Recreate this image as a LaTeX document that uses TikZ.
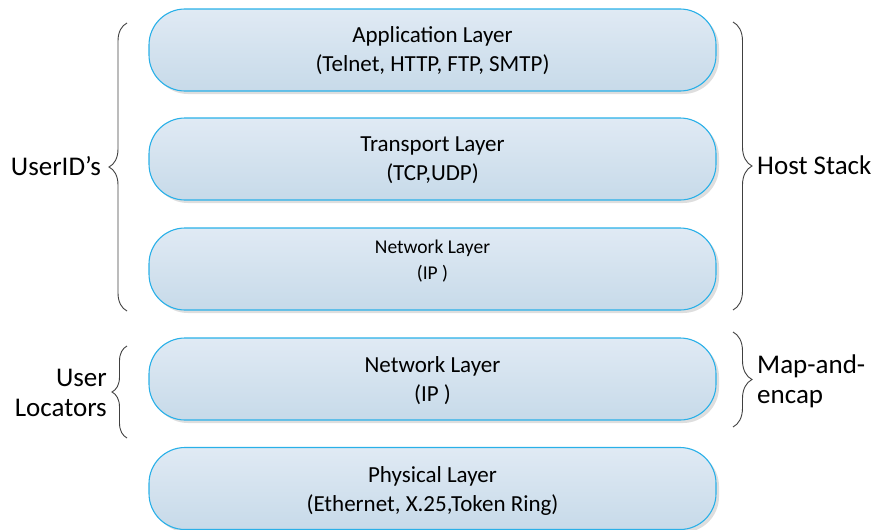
\documentclass[tikz,border=0pt]{standalone}
\usepackage{fontspec}
\setmainfont{Carlito}
\usetikzlibrary{shadows,decorations.pathreplacing}
\definecolor{layeredge}{RGB}{41,176,232}
\definecolor{layertop}{RGB}{224,234,244}
\definecolor{layerbot}{RGB}{199,218,233}
\definecolor{bracegray}{RGB}{64,64,64}

\begin{document}
\begin{tikzpicture}[x=1pt,y=-1pt,
  layer/.style={draw=layeredge, line width=1.1pt, rounded corners=36pt,
    top color=layertop, bottom color=layerbot,
    minimum width=567pt, minimum height=82pt, inner sep=0pt,
    drop shadow={shadow xshift=3pt, shadow yshift=-3pt, fill=black, opacity=0.13}},
  layertext/.style={align=center, inner sep=0pt, font=\fontsize{23}{29}\selectfont},
  smalltext/.style={align=center, inner sep=0pt, font=\fontsize{19.5}{26}\selectfont},
  sidetext/.style={inner sep=0pt, font=\fontsize{27}{30}\selectfont},
  curly/.style={draw=bracegray, line width=0.9pt, decorate,
    decoration={brace, amplitude=#1}}
]
\useasboundingbox (0,0) rectangle (876,530);

% protocol layers
\node[layer] (app)  at (432.5,50)    {};
\node[layer] (trans) at (432.5,159)  {};
\node[layer] (net)  at (432.5,269)   {};
\node[layer] (loc)  at (432.5,379)   {};
\node[layer] (phys) at (432.5,488.5) {};

\node[layertext] (appT)   at ([yshift=-1pt]app.center)    {Application Layer\\(Telnet, HTTP, FTP, SMTP)};
\node[layertext] (transT) at ([yshift=-1.5pt]trans.center) {Transport Layer\\(TCP,UDP)};
\node[smalltext] (netT)   at ([yshift=8pt]net.center)      {Network Layer\\(IP )};
\node[layertext] (locT)   at ([yshift=-1.5pt]loc.center)   {Network Layer\\(IP )};
\node[layertext] (physT)  at ([yshift=-2pt]phys.center)    {Physical Layer\\(Ethernet, X.25,Token Ring)};

% brace end points
\coordinate (uidTop) at (127,23);
\coordinate (uidBot) at (127,311);
\coordinate (hsTop)  at (733,22);
\coordinate (hsBot)  at (733,310);
\coordinate (ulTop)  at (127,346);
\coordinate (ulBot)  at (127,438);
\coordinate (meTop)  at (733,332);
\coordinate (meBot)  at (733,427);

\draw[curly=18pt] (uidBot) -- (uidTop);
\draw[curly=19pt] (hsTop) -- (hsBot);
\draw[curly=15pt] (ulBot) -- (ulTop);
\draw[curly=19pt] (meTop) -- (meBot);

% side labels
\node[sidetext, anchor=east] (uid) at (101,166) {UserID’s};
\node[sidetext, anchor=west] (hs)  at (757,165) {Host Stack};
\node[sidetext, anchor=east, align=right] (ul) at (107,393) {User\\Locators};
\node[sidetext, anchor=west, align=left]  (me) at (757,381) {Map-and-\\encap};
\end{tikzpicture}
\end{document}
